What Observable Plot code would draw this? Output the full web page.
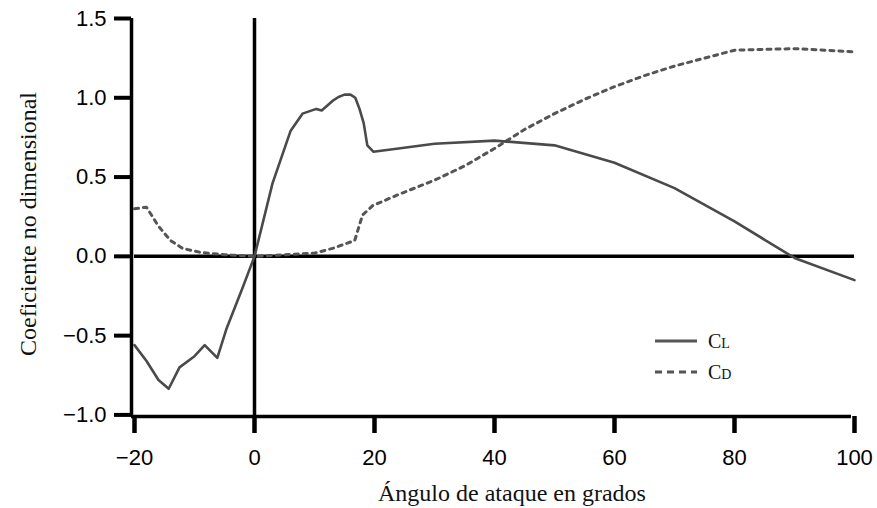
<!DOCTYPE html>
<html>
<head>
<meta charset="utf-8">
<script src="https://cdn.jsdelivr.net/npm/d3@7"></script>
<script src="https://cdn.jsdelivr.net/npm/@observablehq/plot@0.6"></script>
<style>
  html, body { margin: 0; padding: 0; background: #fff; }
</style>
</head>
<body>
<div id="chart"></div>
<script>
// Lift coefficient C_L
const clAngle = [-20, -18, -16, -14.3, -12.5, -10, -8.3, -6.2, -4.7, -2, 0, 3, 6, 8, 10.3, 11.2, 13, 14, 15, 16, 16.8, 17.5, 18.2, 18.8, 19.8, 24, 30, 40, 50, 60, 70, 80, 90, 100];
const clValue = [-0.56, -0.66, -0.78, -0.835, -0.70, -0.63, -0.56, -0.64, -0.46, -0.2, 0, 0.46, 0.79, 0.90, 0.93, 0.92, 0.98, 1.005, 1.02, 1.02, 1.0, 0.93, 0.84, 0.70, 0.66, 0.68, 0.71, 0.73, 0.70, 0.59, 0.43, 0.22, -0.01, -0.15];
// Drag coefficient C_D
const cdAngle = [-20, -18, -16, -14, -12, -9, -5, 0, 5, 10, 13, 16.7, 18, 19.7, 24, 30, 35, 40, 45, 50, 55, 60, 65, 70, 75, 80, 90, 100];
const cdValue = [0.30, 0.31, 0.19, 0.10, 0.05, 0.025, 0.01, 0, 0.01, 0.02, 0.05, 0.10, 0.26, 0.32, 0.39, 0.48, 0.57, 0.68, 0.80, 0.90, 0.99, 1.07, 1.14, 1.20, 1.25, 1.30, 1.31, 1.29];
// Axes
const xTicks = [-20, 0, 20, 40, 60, 80, 100];
const yTicks = [-1.0, -0.5, 0.0, 0.5, 1.0, 1.5];
const xLabel = "Ángulo de ataque en grados";
const yLabel = "Coeficiente no dimensional";
const seriesNames = [["C", "L"], ["C", "D"]];

const cl = clAngle.map((a, i) => ({a, v: clValue[i]}));
const cd = cdAngle.map((a, i) => ({a, v: cdValue[i]}));
const yMin = -1.01, yMax = 1.5;
const minus = s => String(s).replace("-", "\u2212");
const sans = "'Liberation Sans', Arial, Helvetica, sans-serif";

const plot = Plot.plot({
  width: 877,
  height: 508,
  marginLeft: 134,
  marginRight: 23,
  marginTop: 18,
  marginBottom: 92,
  x: {domain: [-20, 100]},
  y: {domain: [yMin, yMax]},
  style: {background: "#fff", color: "#000"},
  marks: [
    Plot.ruleY([0], {x1: -20, x2: 100, stroke: "#000", strokeWidth: 3.5}),
    Plot.ruleX([0], {y1: yMin, y2: yMax, stroke: "#000", strokeWidth: 3.5}),
    Plot.ruleY([yMin], {x1: -20, x2: 100, stroke: "#000", strokeWidth: 3.5, dx: -3}),
    Plot.ruleX([-20], {y1: yMin, y2: yMax, stroke: "#000", strokeWidth: 3.5, dx: -3}),
    Plot.axisX({ticks: xTicks, tickSize: 17, strokeWidth: 4.5, tickPadding: 16, fontSize: 22,
      fontFamily: sans, tickFormat: d => minus(d), label: null}),
    Plot.axisY({ticks: yTicks, tickSize: 17, strokeWidth: 4, tickPadding: 8, dx: -3, fontSize: 22,
      fontFamily: sans, tickFormat: d => minus(d.toFixed(1)), label: null}),
    Plot.line(cd, {x: "a", y: "v", stroke: "#555", strokeWidth: 3, strokeDasharray: "4,5"}),
    Plot.line(cl, {x: "a", y: "v", stroke: "#4a4a4a", strokeWidth: 2.6, strokeLinejoin: "round"})
  ]
});

const svg = d3.select(plot);
const serif = "'Liberation Serif', 'Times New Roman', serif";
svg.append("text")
  .attr("x", 512).attr("y", 501)
  .attr("text-anchor", "middle")
  .attr("font-family", serif).attr("font-size", 24).attr("fill", "#111")
  .text(xLabel);
svg.append("text")
  .attr("transform", "translate(36,224) rotate(-90)")
  .attr("text-anchor", "middle")
  .attr("font-family", serif).attr("font-size", 24).attr("fill", "#111")
  .text(yLabel);

// Legend
const lg = svg.append("g");
const rows = [{y: 341, dash: null, name: seriesNames[0]}, {y: 372, dash: "7,5", name: seriesNames[1]}];
rows.forEach(r => {
  lg.append("line").attr("x1", 655).attr("x2", 697).attr("y1", r.y).attr("y2", r.y)
    .attr("stroke", "#555").attr("stroke-width", 3).attr("stroke-dasharray", r.dash);
  const t = lg.append("text").attr("x", 708).attr("y", r.y + 7)
    .attr("text-anchor", "start")
    .attr("font-family", serif).attr("font-size", 20).attr("fill", "#111");
  t.append("tspan").text(r.name[0]);
  t.append("tspan").attr("font-size", 14).text(r.name[1]);
});

document.getElementById("chart").appendChild(plot);
</script>
</body>
</html>
